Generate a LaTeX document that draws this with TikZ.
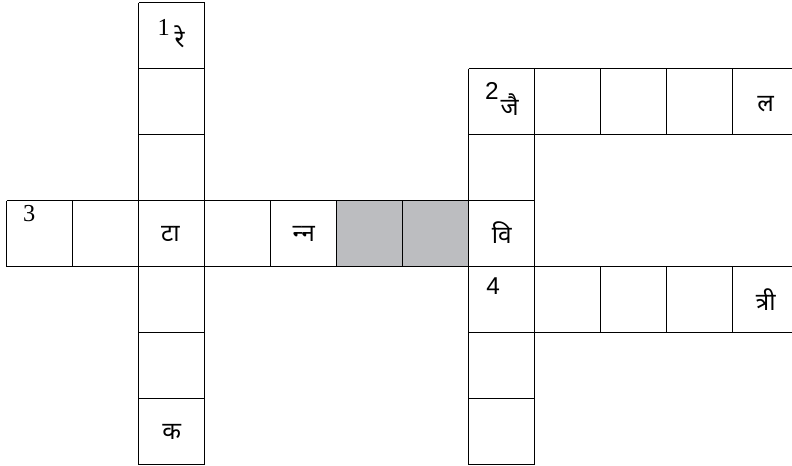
\documentclass[tikz,border=0pt]{standalone}
\usepackage{fontspec}
\setmainfont{Liberation Serif}
\newfontfamily\numsans{Liberation Sans}
\newfontfamily\deva[Script=Devanagari]{Noto Sans}
\definecolor{cellgray}{RGB}{188,189,192}

\begin{document}
\begin{tikzpicture}[line width=0.6pt,
		letter/.style={font=\deva\fontsize{10.5}{12}\selectfont, inner sep=0pt},
		clue/.style={font=\fontsize{10.5}{12}\selectfont, inner sep=0pt}]
		
		\useasboundingbox (-0.1015,0.041) rectangle (11.898,-7.005);
		
		% Shaded cells in the across word 3
		\fill[cellgray] (5,-4) rectangle (7,-3);
		
		% Down words 1 and 2
		\draw (2,-7) grid (3,0);
		\draw (7,-7) grid (8,-1);
		
		% Across words 2, 3 and 4
		\draw (7,-2) grid (12,-1);
		\draw (0,-4) grid (8,-3);
		\draw (7,-5) grid (12,-4);
		
		% Clue numbers
		\node[clue] (c1) at (2.38,-0.38) {1};
		\node[clue] (c2) at (7.35,-1.34) {\numsans 2};
		\node[clue] (c3) at (0.34,-3.19) {3};
		\node[clue] (c4) at (7.37,-4.30) {\numsans 4};
		
		% Given letters
		\node[letter] (re) at (2.62,-0.51) {रे};
		\node[letter] (jai) at (7.62,-1.55) {जै};
		\node[letter] (la) at (11.5,-1.53) {ल};
		\node[letter] (ta) at (2.48,-3.50) {टा};
		\node[letter] (nna) at (4.5,-3.50) {न्^^^^200dन};
		\node[letter] (vi) at (7.5,-3.48) {वि};
		\node[letter] (tri) at (11.5,-4.50) {त्री};
		\node[letter] (ka) at (2.5,-6.50) {क};
		
	\end{tikzpicture}
\end{document}
